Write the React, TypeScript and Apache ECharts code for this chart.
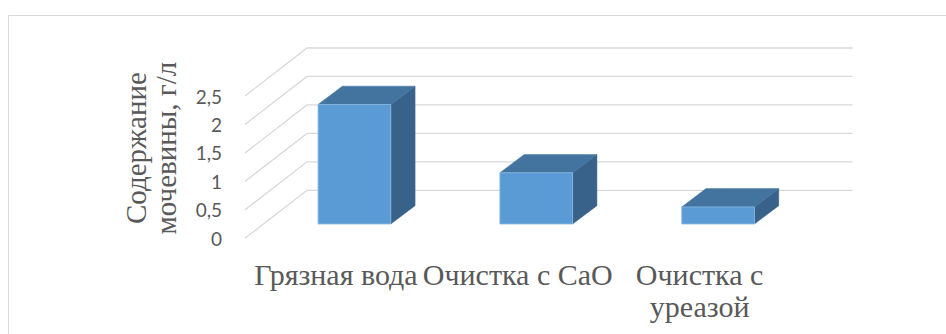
import React, { useEffect, useRef } from "react";
import * as echarts from "echarts";

const categories = ["Грязная вода", "Очистка с CaO", "Очистка с\nуреазой"];
const values = [2.1, 0.9, 0.3];
const yTicks = [0, 0.5, 1, 1.5, 2, 2.5];
const yTickLabels = ["0", "0,5", "1", "1,5", "2", "2,5"];
const axisTitle = "Содержание\nмочевины, г/л";

// oblique projection offsets (px)
const DX = 62, DY = -48; // full depth of the floor
const FX = 18.5, FY = -14.3; // front of bars
const BX = 24.3, BY = -18.3; // depth of bars

export default function App() {
  const ref = useRef<HTMLDivElement>(null);
  useEffect(() => {
    if (!ref.current) return;
    const chart = echarts.init(ref.current, null, { renderer: "svg" });
    chart.setOption({
      animation: false,
      backgroundColor: "#fff",
      grid: { left: 245, right: 155.5, top: 96, bottom: 95.7, containLabel: false },
      graphic: [
        {
          type: "rect",
          shape: { x: 8.5, y: 15.5, width: 960, height: 400 },
          style: { fill: null, stroke: "#D9D9D9", lineWidth: 1 },
          silent: true,
          z: -10,
        },
      ],
      xAxis: {
        type: "category",
        data: categories,
        axisLine: { show: false },
        axisTick: { show: false },
        splitLine: { show: false },
        axisLabel: {
          interval: 0,
          margin: 20,
          color: "#595959",
          fontFamily: "Liberation Serif",
          fontSize: 30,
          lineHeight: 32,
          align: "center",
        },
      },
      yAxis: {
        type: "value",
        min: 0,
        max: 2.5,
        interval: 0.5,
        axisLine: { show: false },
        axisTick: { show: false },
        splitLine: { show: false },
        axisLabel: {
          margin: 23,
          color: "#595959",
          fontFamily: "Lato",
          fontSize: 19,
          padding: [8, 0, 0, 0],
          formatter: (v: number) => {
            const i = yTicks.indexOf(v);
            return i >= 0 ? yTickLabels[i] : String(v).replace(".", ",");
          },
        },
        name: axisTitle,
        nameLocation: "middle",
        nameRotate: 90,
        nameGap: 64,
        nameTextStyle: {
          color: "#595959",
          fontFamily: "Liberation Serif",
          fontSize: 29,
          lineHeight: 30,
          align: "center",
          padding: [0, 0, 0, 38],
        },
      },
      series: [
        {
          type: "custom",
          z: 1,
          silent: true,
          data: yTicks.map((v) => [0, v]),
          renderItem: (params: any, api: any) => {
            const v = api.value(1);
            const c = api.coord([0, v]);
            const bw = api.size([1, 0])[0];
            const left = c[0] - bw / 2;
            const right = left + bw * categories.length;
            return {
              type: "polyline",
              shape: {
                points: [
                  [left, c[1]],
                  [left + DX, c[1] + DY],
                  [right + DX, c[1] + DY],
                ],
              },
              style: { stroke: "#D9D9D9", lineWidth: 1.3, fill: null },
            };
          },
        },
        {
          type: "custom",
          z: 2,
          data: values.map((v, i) => [i, v]),
          renderItem: (params: any, api: any) => {
            const idx = api.value(0);
            const v = api.value(1);
            const base = api.coord([idx, 0]);
            const top = api.coord([idx, v]);
            const bw = api.size([1, 0])[0];
            const w = bw * 0.4;
            const x0 = base[0] - w / 2 + FX;
            const x1 = x0 + w;
            const yb = base[1] + FY;
            const yt = top[1] + FY;
            return {
              type: "group",
              children: [
                {
                  type: "polygon",
                  shape: { points: [[x1, yt], [x1 + BX, yt + BY], [x1 + BX, yb + BY], [x1, yb]] },
                  style: { fill: "#38628A", stroke: "#38628A", lineWidth: 0.5 },
                },
                {
                  type: "polygon",
                  shape: { points: [[x0, yt], [x0 + BX, yt + BY], [x1 + BX, yt + BY], [x1, yt]] },
                  style: { fill: "#4374A0", stroke: "#4374A0", lineWidth: 0.5 },
                },
                {
                  type: "polygon",
                  shape: { points: [[x0, yt], [x1, yt], [x1, yb], [x0, yb]] },
                  style: { fill: "#5B9BD5", stroke: "#8CBAE4", lineWidth: 0.8 },
                },
              ],
            };
          },
        },
      ],
    });
    return () => chart.dispose();
  }, []);
  return (
    <div
      ref={ref}
      style={{ position: "absolute", left: 0, top: 0, width: 946, height: 334 }}
    />
  );
}
